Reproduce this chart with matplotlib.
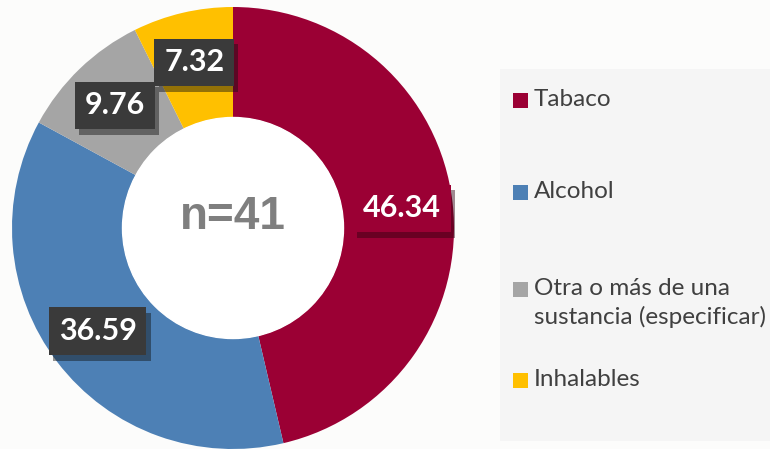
import matplotlib
matplotlib.use('Agg')
import matplotlib.pyplot as plt
import matplotlib.patheffects as pe
import numpy as np

categorias = ['Tabaco', 'Alcohol', 'Otra o más de una\nsustancia (especificar)', 'Inhalables']
valores = [46.34, 36.59, 9.76, 7.32]
colores = ['#9B0034', '#4D80B5', '#A5A5A5', '#FFC000']
cajas = ['#9B0034', '#3A3A3A', '#3A3A3A', '#3A3A3A']
total_n = 41

fig = plt.figure(figsize=(7.7, 4.49), dpi=100)
fig.patch.set_facecolor('#FCFCFB')

# panel de la leyenda
fig.patches.append(plt.Rectangle((500 / 770, 8 / 449), 270 / 770, 372 / 449,
                                 transform=fig.transFigure, facecolor='#F5F5F5',
                                 edgecolor='none', zorder=0))

ax = fig.add_axes([12 / 770, 0.0, 442 / 770, 442 / 449])
ax.set_facecolor('none')
wedges, _ = ax.pie(valores, colors=colores, startangle=90, counterclock=False,
                   radius=1.0, wedgeprops=dict(width=0.5, edgecolor='none'))
ax.set_xlim(-1, 1)
ax.set_ylim(-1, 1)
ax.set_aspect('equal')
ax.axis('off')

# círculo interior
ax.add_patch(plt.Circle((0, 0), 0.5, color='white', zorder=1))

# etiquetas de datos
for w, v, c in zip(wedges, valores, cajas):
    ang = np.deg2rad((w.theta1 + w.theta2) / 2)
    r = 0.77
    x, y = r * np.cos(ang), r * np.sin(ang)
    ax.text(x, y, f'{v:.2f}', ha='center', va='center', color='white',
            fontsize=22, fontweight='bold', family=['Lato', 'DejaVu Sans'], zorder=5,
            bbox=dict(boxstyle='square,pad=0.32', facecolor=c, edgecolor='none',
                      path_effects=[pe.SimplePatchShadow(offset=(3, -4), alpha=0.45),
                                    pe.Normal()]))

ax.text(0, 0.05, f'n={total_n}', ha='center', va='center', color='#7F7F7F',
        fontsize=33, fontweight='bold', family=['Liberation Sans', 'DejaVu Sans'], zorder=5)

# leyenda
ys = [100, 192, 303, 380]
for lab, col, yy in zip(categorias, colores, ys):
    ym = yy if '\n' not in lab else 289
    fig.patches.append(plt.Rectangle((513 / 770, (449 - ym - 8) / 449), 15 / 770, 15 / 449,
                                     transform=fig.transFigure, facecolor=col,
                                     edgecolor='none', zorder=2))
    fig.text(534 / 770, (449 - yy) / 449, lab, ha='left', va='center',
             fontsize=17.5, color='#404040', family=['Lato', 'DejaVu Sans'],
             linespacing=1.35)

fig.savefig('out.png', dpi=100, facecolor=fig.get_facecolor())
